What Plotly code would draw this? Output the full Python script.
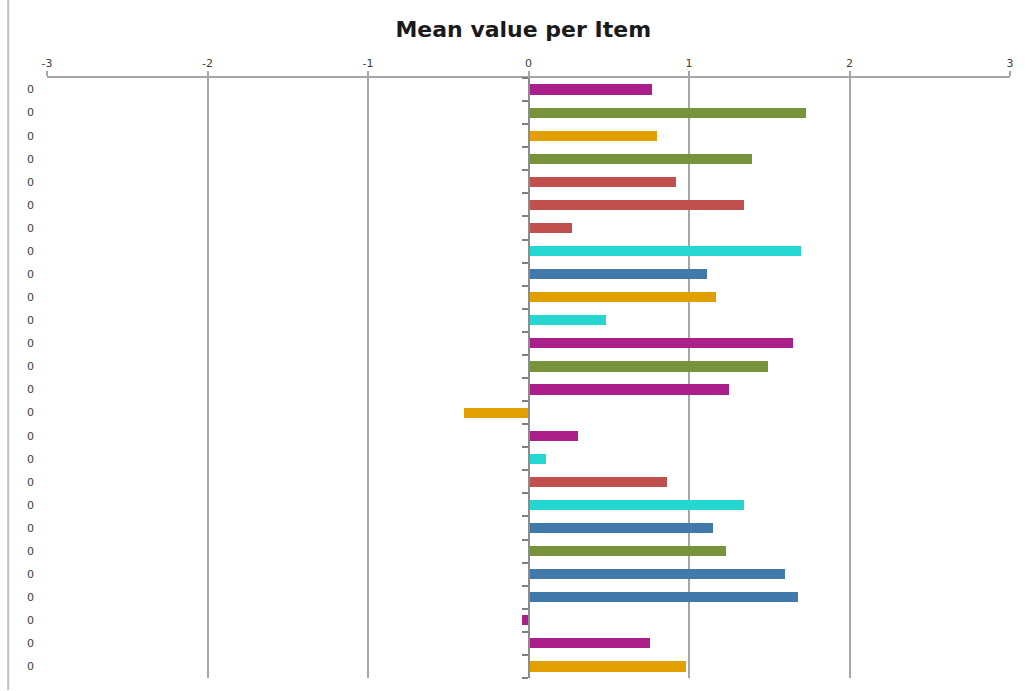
import plotly.graph_objects as go

values = [0.77, 1.73, 0.80, 1.39, 0.92, 1.34, 0.27, 1.70, 1.11, 1.17, 0.48, 1.65, 1.49,
          1.25, -0.40, 0.31, 0.11, 0.86, 1.34, 1.15, 1.23, 1.60, 1.68, -0.04, 0.76, 0.98]
color_keys = ["magenta", "green", "orange", "green", "red", "red", "red", "cyan", "blue",
              "orange", "cyan", "magenta", "green", "magenta", "orange", "magenta", "cyan",
              "red", "cyan", "blue", "green", "blue", "blue", "magenta", "magenta", "orange"]
labels = ["0"] * len(values)
x_ticks = [-3, -2, -1, 0, 1, 2, 3]
title = "Mean value per Item"

palette = {"magenta": "#AB1F8A", "green": "#77933C", "orange": "#E1A000",
           "red": "#C0504D", "cyan": "#25D6D1", "blue": "#4279AB"}

n = len(values)
pos = list(range(n))
grid = "#A6A6A6"

fig = go.Figure()
fig.add_trace(go.Bar(
    x=values, y=pos, orientation="h", width=0.44,
    marker=dict(color=[palette[c] for c in color_keys], line=dict(width=0)),
    showlegend=False, hoverinfo="x",
))
# invisible trace to carry the zero-crossing category axis
fig.add_trace(go.Scatter(x=[0], y=[0], yaxis="y2", mode="markers",
                         marker=dict(opacity=0), showlegend=False, hoverinfo="skip"))

fig.update_layout(
    width=1026, height=691,
    margin=dict(l=47, r=12, t=78, b=13),
    paper_bgcolor="white", plot_bgcolor="white",
    font=dict(family="DejaVu Sans", size=10, color="#404040"),
    title=dict(text=f"<b>{title}</b>", x=0.51, xanchor="center", y=0.958, yanchor="middle",
               font=dict(family="DejaVu Sans", size=22, color="#1a1a1a")),
    xaxis=dict(side="top", range=[-3, 3], tickvals=x_ticks, ticktext=[str(v) for v in x_ticks],
               showgrid=True, gridcolor=grid, gridwidth=2, zeroline=False,
               showline=True, linecolor=grid, linewidth=2,
               ticks="outside", ticklen=5, tickcolor=grid, tickwidth=2,
               tickfont=dict(size=11, color="#404040")),
    yaxis=dict(range=[n - 0.5, -0.5], tickvals=pos, ticktext=labels,
               showgrid=False, zeroline=False, showline=False, ticks="",
               ticklabelstandoff=12, tickfont=dict(size=11, color="#404040")),
    yaxis2=dict(overlaying="y", anchor="free", position=0.5, side="left",
                range=[n - 0.5, -0.5], tickvals=[p - 0.5 for p in pos] + [n - 0.5],
                showticklabels=False, ticks="outside", ticklen=6, tickcolor="#7F7F7F",
                tickwidth=1.5, showline=True, linecolor="#8C8C8C", linewidth=2,
                showgrid=False, zeroline=False),
    bargap=0,
    shapes=[dict(type="line", xref="paper", yref="paper", x0=-0.0403, x1=-0.0403,
                 y0=-0.02, y1=1.13, line=dict(color="#BFBFBF", width=2))],
)

fig.write_html("out.html")
